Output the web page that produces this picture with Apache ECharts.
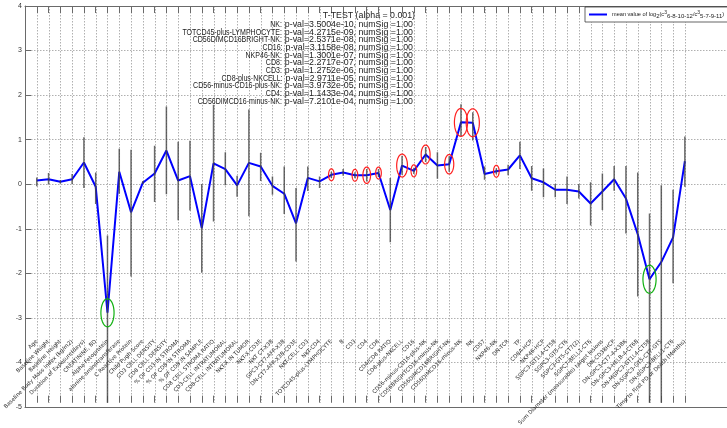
<!DOCTYPE html>
<html><head><meta charset="utf-8">
<script src="https://cdn.jsdelivr.net/npm/echarts@6/dist/echarts.min.js"></script>
<style>html,body{margin:0;padding:0;background:#fff}#c{width:727px;height:428px}</style>
</head><body><div id="c"></div>
<script>
const labels = [
  'Age','Baseline Weight','Baseline Height','Baseline Body Mass Index (kg/m2)','Duration of Exposure(days)',
  'CREATININE, BD','Alpha Fetoprotein','alanine aminotransferase','C Reactive Protein','Child Pugh Score',
  'CD3 CELL DENSITY','CD8 CELL DENSITY','% OF CD3 IN STROMA','% OF CD8 IN STROMA','% OF CD8 IN SAMPLE',
  'CD8 CELL STROMA RATIO','CD3-CELL INTRATUMORAL','CD8-CELL INTRATUMORAL','NKT-X IN TUMOR','NKT-X CD3E',
  'NKT CT-X3B','GPC3-CT7-AFP-X3B','DN-CT7-AFP-X3B-CD3E','NKT-CELL CD3','NKT-CD4',
  'TOTCD45-plus-LYMPHOCYTE','B','CD3','CD4','CD8',
  'CD4/CD8 RATIO','CD8-plus-NKCELL','CD16','CD56-minus-CD16-plus-NK','CD56BRIGHTCD16-minus-NK',
  'CD56DIMCD16BRIGHT-NK','CD56DIMCD16-minus-NK','NK','CD57','NKP46-NK',
  'DN-TCR','TP','CD8A-HCP','NKP46-HCP','SGPC3-GT1L4-CT5B',
  'SGPC3-GT5-CT6','SGPC3-GT5-CT7(2)','SGPC7-BELL1-CT6','Sum Diameter (measurable) target lesions','DN-CD38HCP',
  'DN-GPC3-CT7-4-X3BK','DN-GPC3-HELB-4-CT6B','DN-MGPC3-GT1L4-CT5B','DN-SGPC3-GT5-CT7-GTS','DN-SGPC3-BELL1-CT6',
  'Time to First PD or Death (Months)'
];
const meanVals = [
  0.04, 0.07, 0.01, 0.07, 0.45, -0.10, -2.96, 0.24, -0.68, -0.01,
  0.20, 0.72, 0.04, 0.14, -1.04, 0.43, 0.30, -0.07, 0.44, 0.36,
  -0.08, -0.26, -0.93, 0.10, 0.02, 0.17, 0.22, 0.16, 0.16, 0.21,
  -0.63, 0.38, 0.26, 0.63, 0.38, 0.41, 1.36, 1.35, 0.19, 0.25,
  0.29, 0.61, 0.09, 0.00, -0.17, -0.17, -0.21, -0.48, -0.21, 0.07,
  -0.37, -1.18, -2.20, -1.81, -1.25, 0.48
];
const errLow = [
  -0.09, -0.05, -0.03, -0.04, -0.13, -0.49, -5.3, -0.26, -2.14, -0.04,
  -0.45, -0.27, -0.86, -0.64, -2.05, -0.89, -0.07, -0.33, -0.77, 0.03,
  -0.28, -0.72, -1.80, -0.20, -0.13, 0.10, 0.15, 0.09, 0.02, 0.12,
  -1.36, 0.17, 0.19, 0.46, 0.08, 0.24, 1.05, 0.95, 0.06, 0.18,
  0.16, 0.30, -0.19, -0.34, -0.34, -0.49, -0.37, -0.98, -0.63, -0.19,
  -1.16, -2.59, -5.3, -5.3, -2.29, -0.10
];
const errHigh = [
  0.11, 0.21, 0.05, 0.19, 1.02, 0.22, -1.21, 0.76, 0.74, 0.03,
  0.83, 1.72, 0.92, 0.94, -0.04, 1.76, 0.68, 0.15, 1.65, 0.67,
  0.13, 0.36, -0.13, 0.36, 0.13, 0.24, 0.30, 0.23, 0.30, 0.30,
  0.10, 0.60, 0.33, 0.80, 0.68, 0.59, 1.77, 1.59, 0.36, 0.32,
  0.40, 0.92, 0.37, 0.31, -0.04, 0.13, -0.04, 0.00, 0.20, 0.37,
  0.37, 0.22, -0.71, -0.07, -0.17, 1.04
];
const sigUp = [25, 27, 28, 29, 31, 32, 33, 35, 36, 37, 39];
const sigDown = [6, 52];
const sigNames = ['NK','TOTCD45-plus-LYMPHOCYTE','CD56DIMCD16BRIGHT-NK','CD16','NKP46-NK','CD8','CD3',
  'CD8-plus-NKCELL','CD56-minus-CD16-plus-NK','CD4','CD56DIMCD16-minus-NK'];
const sigPVals = ['3.5004e-10','4.2715e-09','2.5371e-08','3.1158e-08','1.3001e-07','2.2717e-07',
  '1.2752e-06','2.9711e-05','3.9732e-05','1.1433e-04','7.2101e-04'];
const numSig = '1.00';
const testTitle = 'T-TEST (alpha = 0.001)';
const seriesName = 'mean value of log2(c3 6-8-10-12/c3 5-7-9-11)';
const yMin = -5, yMax = 4, yStep = 1;
const xFrameMax = 60;

// layout: frame axis spans 0..60, the data categories sit at 1..56
const W = 727, L = 25, R = -5;
const unit = (W - L - R) / xFrameMax;
const dataLeft = L + unit;
const dataRight = W - (L + labels.length * unit);

const chart = echarts.init(document.getElementById('c'), null, {renderer: 'canvas'});
const gridCol = '#b0b0b0';
const axisCol = '#6a6a6a';

function ellipseRender(color) {
  return function (params, api) {
    const i = api.value(0);
    const c = api.coord([i, api.value(1)]);
    const pLo = api.coord([i, api.value(2)]);
    const pHi = api.coord([i, api.value(3)]);
    const span = Math.abs(pLo[1] - pHi[1]);
    const ry = Math.max(12, Math.min(28, span + 4)) / 2;
    const rx = ry * 0.47;
    const pts = [];
    for (let k = 0; k < 48; k++) {
      const a = k / 48 * Math.PI * 2;
      pts.push([c[0] + rx * Math.cos(a), c[1] + ry * Math.sin(a)]);
    }
    return {type: 'polygon', shape: {points: pts}, style: {fill: 'none', stroke: color, lineWidth: 1.2}};
  };
}
const markData = (list) => list.map(i => [i, meanVals[i], errLow[i], errHigh[i]]);

// text block: value part in regular width, names horizontally condensed
const txtFont = '8.8px "Liberation Sans"';
const mctx = document.createElement('canvas').getContext('2d');
mctx.font = txtFont;
const textRight = 413, textTop = 24.6, textStep = 7.65;
const textEls = [];
sigNames.forEach((n, k) => {
  const val = 'p-val=' + sigPVals[k] + ', numSig =' + numSig;
  const y = textTop + k * textStep;
  const vw = mctx.measureText(val).width;
  textEls.push({type: 'text', x: textRight, y: y, z: 10, silent: true,
    style: {text: val, font: txtFont, fill: '#222', align: 'right', verticalAlign: 'middle',
      textAlign: 'right', textVerticalAlign: 'middle'}});
  textEls.push({type: 'text', x: textRight - vw - 3, y: y, z: 10, silent: true, scaleX: 0.8,
    style: {text: n + ':', font: txtFont, fill: '#222', align: 'right', verticalAlign: 'middle',
      textAlign: 'right', textVerticalAlign: 'middle'}});
});

const hideAll = {axisLine: {show: false, onZero: false}, axisTick: {show: false}, axisLabel: {show: false}, splitLine: {show: false}};

chart.setOption({
  animation: false,
  backgroundColor: '#fff',
  grid: [
    {left: L, right: R, top: 6, bottom: 21, containLabel: false},
    {left: dataLeft, right: dataRight, top: 6, bottom: 21, containLabel: false}
  ],
  xAxis: [
    Object.assign({}, hideAll, {type: 'value', gridIndex: 0, min: 0, max: xFrameMax, position: 'bottom',
      axisLine: {show: true, onZero: false, lineStyle: {color: axisCol, width: 1}}}),
    Object.assign({}, hideAll, {type: 'value', gridIndex: 0, min: 0, max: xFrameMax, position: 'top',
      axisLine: {show: true, onZero: false, lineStyle: {color: axisCol, width: 1}}}),
    Object.assign({}, hideAll, {type: 'category', gridIndex: 1, data: labels, boundaryGap: false, position: 'bottom',
      axisTick: {show: true, inside: true, length: 7, interval: 0, lineStyle: {color: axisCol}}}),
    Object.assign({}, hideAll, {type: 'category', gridIndex: 1, data: labels, boundaryGap: false, position: 'top',
      axisTick: {show: true, inside: true, length: 7, interval: 0, lineStyle: {color: axisCol}}}),
    Object.assign({}, hideAll, {type: 'category', gridIndex: 1, data: labels, boundaryGap: false, position: 'bottom', offset: -64,
      axisLabel: {show: true, rotate: 45, margin: 2, interval: 0, hideOverlap: false,
        fontFamily: 'DejaVu Sans', fontSize: 5.5, color: '#2a2a2a'}})
  ],
  yAxis: [
    {
      type: 'value', gridIndex: 0, min: yMin, max: yMax, interval: yStep,
      axisLine: {show: true, onZero: false, lineStyle: {color: axisCol, width: 1}},
      axisTick: {show: true, inside: true, length: 6, lineStyle: {color: axisCol}},
      axisLabel: {fontFamily: 'Liberation Sans', fontSize: 7, color: '#333', margin: 3},
      splitLine: {show: true, lineStyle: {color: gridCol, type: [1.5, 1.5], width: 1}}
    },
    Object.assign({}, hideAll, {type: 'value', gridIndex: 1, min: yMin, max: yMax, interval: yStep})
  ],
  legend: {
    show: true, data: [seriesName], left: 585, top: 7,
    padding: [3, 4, 3, 4], itemWidth: 18, itemHeight: 2, itemGap: 4, icon: 'rect',
    backgroundColor: '#fff', borderColor: '#222', borderWidth: 0.7, borderRadius: 0,
    formatter: function () {
      return 'mean value of log{s|2}(c{p|3}{s|6-8-10-12}/c{p|3}{s|5-7-9-11})';
    },
    textStyle: {fontFamily: 'Liberation Sans', fontSize: 5.6, color: '#222', lineHeight: 9,
      rich: {
        s: {fontFamily: 'Liberation Sans', fontSize: 6, lineHeight: 5.8, verticalAlign: 'bottom', color: '#222'},
        p: {fontFamily: 'Liberation Sans', fontSize: 5, lineHeight: 5, verticalAlign: 'top', color: '#222'}
      }}
  },
  series: [
    {
      // vertical grid lines at every category position
      type: 'custom', xAxisIndex: 2, yAxisIndex: 1, clip: false, z: 0, silent: true,
      data: labels.map((l, i) => [i]),
      renderItem: function (params, api) {
        const p = api.coord([api.value(0), 0]);
        const cs = params.coordSys;
        const x = Math.round(p[0]) + 0.5;
        return {type: 'line', shape: {x1: x, y1: cs.y, x2: x, y2: cs.y + cs.height},
          style: {stroke: gridCol, lineWidth: 1, lineDash: [1.5, 1.5]}};
      }
    },
    {
      name: seriesName, type: 'line', xAxisIndex: 2, yAxisIndex: 1, symbol: 'none', showSymbol: false,
      data: meanVals.map((v, i) => [i, v]),
      lineStyle: {color: '#0000ff', width: 2}, itemStyle: {color: '#0000ff'}, z: 2
    },
    {
      type: 'custom', xAxisIndex: 2, yAxisIndex: 1, clip: true, z: 3, silent: true,
      data: meanVals.map((v, i) => [i, errLow[i], errHigh[i]]),
      renderItem: function (params, api) {
        const a = api.coord([api.value(0), api.value(1)]);
        const b = api.coord([api.value(0), api.value(2)]);
        return {type: 'line', shape: {x1: a[0], y1: a[1], x2: b[0], y2: b[1]},
          style: {stroke: '#444', lineWidth: 1.5, opacity: 0.8}};
      }
    },
    {
      type: 'custom', xAxisIndex: 2, yAxisIndex: 1, clip: false, z: 4, silent: true,
      data: markData(sigUp), renderItem: ellipseRender('#ff2020')
    },
    {
      type: 'custom', xAxisIndex: 2, yAxisIndex: 1, clip: false, z: 4, silent: true,
      data: markData(sigDown), renderItem: ellipseRender('#10b010')
    }
  ],
  graphic: [
    {type: 'text', x: 415, y: 15.5, z: 10, silent: true,
      style: {text: testTitle, font: txtFont, fill: '#222',
        textAlign: 'right', textVerticalAlign: 'middle', align: 'right', verticalAlign: 'middle'}}
  ].concat(textEls)
});
</script></body></html>
